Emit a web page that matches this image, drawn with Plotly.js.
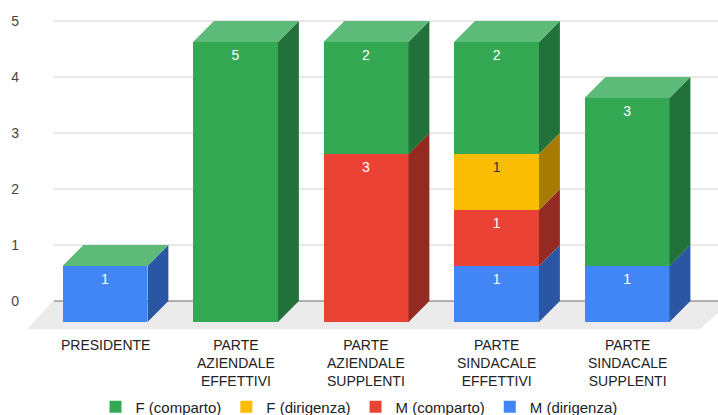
<!DOCTYPE html>
<html>
<head>
<meta charset="utf-8">
<script src="https://cdn.plot.ly/plotly-3.0.1.min.js"></script>
<style>html,body{margin:0;padding:0;background:#fff;}#chart{width:718px;height:415px;}</style>
</head>
<body>
<div id="chart"></div>
<script>
// ---- data ----
const categories = ['PRESIDENTE', 'PARTE\nAZIENDALE\nEFFETTIVI', 'PARTE\nAZIENDALE\nSUPPLENTI', 'PARTE\nSINDACALE\nEFFETTIVI', 'PARTE\nSINDACALE\nSUPPLENTI'];
const seriesNames = ['F (comparto)', 'F (dirigenza)', 'M (comparto)', 'M (dirigenza)'];
const fComparto  = [0, 5, 2, 2, 3];
const fDirigenza = [0, 0, 0, 1, 0];
const mComparto  = [0, 0, 3, 1, 0];
const mDirigenza = [1, 0, 0, 1, 1];
const yTicks = [0, 1, 2, 3, 4, 5];

// ---- styles ----
const FONT = 'Arial, "Liberation Sans", sans-serif';
const frontColors = { 'F (comparto)': '#34a853', 'F (dirigenza)': '#fbbc04', 'M (comparto)': '#ea4335', 'M (dirigenza)': '#4285f4' };
const sideColors  = { 'F (comparto)': '#22703a', 'F (dirigenza)': '#a67c02', 'M (comparto)': '#942b22', 'M (dirigenza)': '#2a56a3' };
const topColors   = { 'F (comparto)': '#5dba79', 'F (dirigenza)': '#fccd4f', 'M (comparto)': '#f07b70', 'M (dirigenza)': '#7aa9f7' };
const labelColors = { 'F (comparto)': '#ffffff', 'F (dirigenza)': '#333333', 'M (comparto)': '#ffffff', 'M (dirigenza)': '#ffffff' };

const W = 0.651;     // bar width (x units)
const DX = 0.16;     // depth offset in x units
const DY = 0.375;    // depth offset in y units
const LABEL_DROP = 0.25;

// stacking order bottom -> top
const stack = [
  { name: 'M (dirigenza)', vals: mDirigenza },
  { name: 'M (comparto)',  vals: mComparto },
  { name: 'F (dirigenza)', vals: fDirigenza },
  { name: 'F (comparto)',  vals: fComparto }
];
const xs = categories.map((c, i) => i);

const traces = [];
const sideTraces = [];
const labelX = [], labelY = [], labelT = [], labelC = [];
const cum = categories.map(() => 0);

stack.forEach(s => {
  traces.push({
    type: 'bar', x: xs, y: s.vals, name: s.name, width: W,
    marker: { color: frontColors[s.name], line: { width: 0 } },
    legendrank: seriesNames.indexOf(s.name) + 1, hoverinfo: 'skip'
  });
  const px = [], py = [];
  s.vals.forEach((v, i) => {
    const y0 = cum[i], y1 = cum[i] + v;
    if (v > 0) {
      const xr = i + W / 2;
      px.push(xr, xr + DX, xr + DX, xr, xr, null);
      py.push(y0, y0 + DY, y1 + DY, y1, y0, null);
      labelX.push(i); labelY.push(y1 - LABEL_DROP); labelT.push(String(v)); labelC.push(labelColors[s.name]);
    }
    cum[i] = y1;
  });
  sideTraces.push({
    type: 'scatter', mode: 'lines', x: px, y: py, fill: 'toself',
    fillcolor: sideColors[s.name], line: { width: 0, color: sideColors[s.name] },
    showlegend: false, hoverinfo: 'skip'
  });
});

// top faces (coloured by the topmost series, as in the reference)
const topName = stack[stack.length - 1].name;
const tx = [], ty = [];
cum.forEach((T, i) => {
  const xl = i - W / 2, xr = i + W / 2;
  tx.push(xl, xl + DX, xr + DX, xr, xl, null);
  ty.push(T, T + DY, T + DY, T, T, null);
});
const topTrace = {
  type: 'scatter', mode: 'lines', x: tx, y: ty, fill: 'toself',
  fillcolor: topColors[topName], line: { width: 0, color: topColors[topName] },
  showlegend: false, hoverinfo: 'skip'
};

const labelTrace = {
  type: 'scatter', mode: 'text', x: labelX, y: labelY, text: labelT,
  textfont: { family: FONT, size: 14, color: labelC },
  showlegend: false, hoverinfo: 'skip'
};

// axis frame (in front-face units)
const X0 = -0.6207, X1 = 4.697;
const Y0 = -0.1786, Y1 = 5.5714;

const shapes = [];
// floor
shapes.push({
  type: 'path', xref: 'x', yref: 'y', layer: 'below',
  path: `M -0.598 -0.125 L -0.398 ${DY} L 4.80 ${DY} L 4.56 -0.125 Z`,
  fillcolor: '#ebebeb', line: { width: 0 }
});
// gridlines on the back plane
yTicks.forEach(v => {
  shapes.push({
    type: 'line', xref: 'x', yref: 'y', layer: 'below',
    x0: -0.391, x1: X1, y0: v + DY, y1: v + DY,
    line: { color: v === 0 ? '#6b6b6b' : '#e0e0e0', width: v === 0 ? 1.2 : 1.5 }
  });
});

// category labels (multi-line)
const annotations = categories.map((c, i) => ({
  x: i, xref: 'x', y: 0, yref: 'paper', yanchor: 'top', xanchor: 'center',
  yshift: -3, showarrow: false, text: c.split('\n').join('<br>'), align: 'center',
  font: { family: FONT, size: 14, color: '#222222' }
}));

const layout = {
  width: 718, height: 415,
  margin: { l: 24, r: 0, t: 10, b: 83 },
  paper_bgcolor: '#ffffff', plot_bgcolor: 'rgba(0,0,0,0)',
  barmode: 'stack', bargap: 0, hovermode: false,
  font: { family: FONT, color: '#222222' },
  xaxis: { range: [X0, X1], showgrid: false, zeroline: false, showticklabels: false, ticks: '', showline: false, fixedrange: true },
  yaxis: {
    range: [Y0, Y1], showgrid: false, zeroline: false, showline: false, ticks: '',
    tickvals: yTicks.map(v => v + DY), ticktext: yTicks.map(String),
    tickfont: { family: FONT, size: 14, color: '#444444' }, ticklabelstandoff: 4, fixedrange: true
  },
  shapes: shapes,
  annotations: annotations,
  showlegend: true,
  legend: {
    orientation: 'h', traceorder: 'normal', xref: 'container', yref: 'container', x: 0.5, xanchor: 'center',
    y: 0.019, yanchor: 'middle', font: { family: FONT, size: 15, color: '#222222' },
    bgcolor: 'rgba(0,0,0,0)'
  }
};

Plotly.newPlot('chart', traces.concat(sideTraces, [topTrace, labelTrace]), layout, { displayModeBar: false, staticPlot: true });
</script>
</body>
</html>
